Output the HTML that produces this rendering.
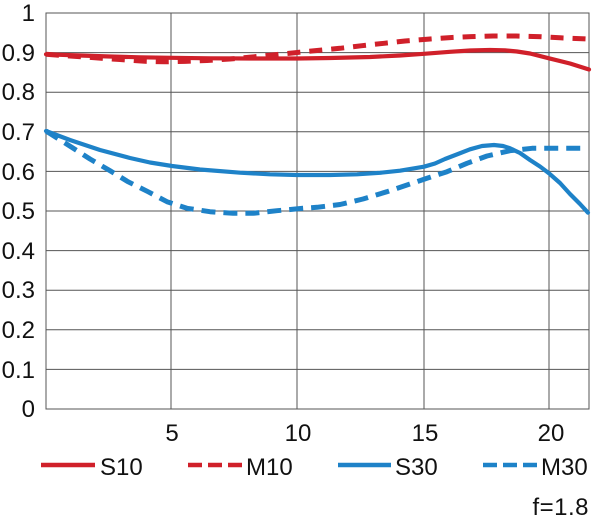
<!DOCTYPE html>
<html>
<head>
<meta charset="utf-8">
<style>
html,body{margin:0;padding:0;background:#fff;}
svg{display:block;}
text{font-family:"Liberation Sans",sans-serif;fill:#111;}
</style>
</head>
<body>
<svg width="600" height="523" viewBox="0 0 600 523" xmlns="http://www.w3.org/2000/svg">
  <rect x="0" y="0" width="600" height="523" fill="#fff"/>
  <!-- grid -->
  <g stroke="#555" stroke-width="1" fill="none">
    <line x1="46" y1="369.4" x2="589" y2="369.4"/>
    <line x1="46" y1="329.8" x2="589" y2="329.8"/>
    <line x1="46" y1="290.2" x2="589" y2="290.2"/>
    <line x1="46" y1="250.6" x2="589" y2="250.6"/>
    <line x1="46" y1="211" x2="589" y2="211"/>
    <line x1="46" y1="171.4" x2="589" y2="171.4"/>
    <line x1="46" y1="131.8" x2="589" y2="131.8"/>
    <line x1="46" y1="92.2" x2="589" y2="92.2"/>
    <line x1="46" y1="52.6" x2="589" y2="52.6"/>
    <line x1="171" y1="13" x2="171" y2="409"/>
    <line x1="297" y1="13" x2="297" y2="409"/>
    <line x1="424" y1="13" x2="424" y2="409"/>
    <line x1="549" y1="13" x2="549" y2="409"/>
    <rect x="46" y="13" width="543" height="396"/>
  </g>
  <!-- y labels -->
  <g font-size="24" text-anchor="end">
    <text x="35" y="21">1</text>
    <text x="35" y="61">0.9</text>
    <text x="35" y="100">0.8</text>
    <text x="35" y="140">0.7</text>
    <text x="35" y="180">0.6</text>
    <text x="35" y="219">0.5</text>
    <text x="35" y="259">0.4</text>
    <text x="35" y="298">0.3</text>
    <text x="35" y="338">0.2</text>
    <text x="35" y="378">0.1</text>
    <text x="35" y="417">0</text>
  </g>
  <!-- x labels -->
  <g font-size="24" text-anchor="middle">
    <text x="172" y="441">5</text>
    <text x="298" y="441">10</text>
    <text x="425" y="441">15</text>
    <text x="551" y="441">20</text>
  </g>
  <!-- curves -->
  <g fill="none" stroke-linejoin="round">
    <polyline stroke="#d0202a" stroke-width="5" stroke-dasharray="13 9"
      points="46,54.3 70,56 95,57.8 120,59.5 145,61.3 165,61.8 185,61.4 207,60.5 230,59 252,57 272,55 295,52.7 317,50.5 340,48.3 362,45.7 384,43.3 405,41 427,39.2 450,37.6 471,36.6 493,36 516,36 538,36.6 560,37.8 589,39"/>
    <polyline stroke="#d0202a" stroke-width="4.2" stroke-linecap="round"
      points="46,54.3 80,55.5 110,56.5 140,57.3 172,57.8 210,58.3 250,58.5 297,58.5 330,58 370,57 400,55.5 424,53.8 450,51.8 470,50.5 490,50 505,50.3 517,51.5 530,53.5 549,58.3 570,63.5 589,69.5"/>
    <polyline stroke="#1e82c8" stroke-width="5" stroke-dasharray="14 8"
      points="46,131 65,143 90,159 110,170.7 128,181.7 148,191.7 167,201.7 187,208.3 210,211.7 233,213.3 253,213.3 277,210.7 303,208.3 317,207.3 340,204.5 363,199 387,191.7 407,185 427,178.3 447,171.7 467,163.3 487,156 510,150.7 532,148.3 553,148.3 588,148.3"/>
    <polyline stroke="#1e82c8" stroke-width="4.2" stroke-linecap="round"
      points="46,131 70,140 100,150 130,158 150,162.5 172,166 200,169.5 240,172.7 270,174.3 297,175 330,175 357,174.3 380,172.8 400,170.7 424,166.7 435,163.5 445,159 458,154 470,149.3 482,146 494,145 503,146 510,148.3 520,153 530,160 540,166.5 549,173.3 560,183 570,194 580,204 588,212.7"/>
  </g>
  <!-- legend -->
  <g fill="none" stroke-width="4.5">
    <line x1="41" y1="465" x2="95" y2="465" stroke="#d0202a"/>
    <line x1="188" y1="465" x2="242" y2="465" stroke="#d0202a" stroke-dasharray="14 6"/>
    <line x1="338" y1="465" x2="391" y2="465" stroke="#1e82c8"/>
    <line x1="483" y1="465" x2="537" y2="465" stroke="#1e82c8" stroke-dasharray="14 6"/>
  </g>
  <g font-size="24">
    <text x="100" y="475">S10</text>
    <text x="246" y="475">M10</text>
    <text x="395" y="475">S30</text>
    <text x="541" y="475">M30</text>
  </g>
  <text x="589" y="515" font-size="24" text-anchor="end" letter-spacing="0.5">f=1.8</text>
</svg>
</body>
</html>
